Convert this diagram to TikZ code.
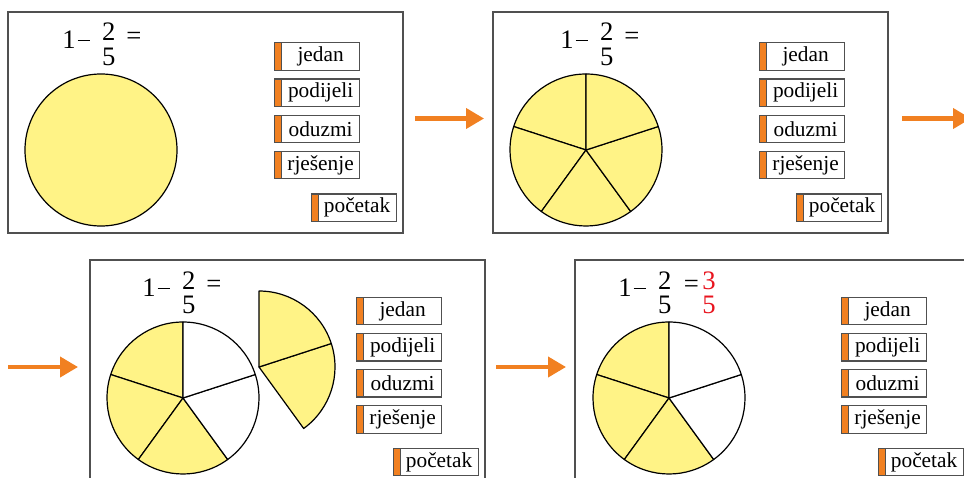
\documentclass[tikz,border=0pt]{standalone}
\usepackage{fontspec}
\setmainfont{Liberation Serif}
\newfontfamily\serifni{Liberation Serif}
\usetikzlibrary{positioning,arrows.meta}

\definecolor{zuta}{RGB}{255,243,134}
\definecolor{narancasta}{RGB}{241,128,33}
\definecolor{okvir}{RGB}{80,80,80}
\definecolor{crvena}{RGB}{232,20,30}

\tikzset{
  ploca/.style={draw=okvir, line width=1.1pt},
  kriska/.style={draw=black, line width=0.9pt, line join=round},
  jedn/.style={inner sep=0pt, font=\serifni\fontsize{20}{22}\selectfont},
  gumb/.style={draw=okvir, line width=0.9pt, fill=white, anchor=north west,
    minimum width=63.75pt, minimum height=20.6pt, inner sep=0pt,
    font=\serifni\fontsize{16}{18}\selectfont,
    execute at begin node={\hspace*{5.25pt}},
    path picture={\filldraw[fill=narancasta, draw=okvir, line width=0.9pt]
      (path picture bounding box.south west) rectangle
      ([xshift=5.25pt]path picture bounding box.north west);}},
  strelica/.style={draw=narancasta, line width=3pt,
    -{Triangle[length=13.5pt,width=15pt]}}
}

% gumbi na desnoj strani ploce: #1 oznaka, #2 vrh prvog gumba
\newcommand{\gumbi}[2]{%
  \node[gumb] (#1jedan) at (266,-#2) {jedan};
  \node[gumb, below=5.6pt of #1jedan] (#1podijeli) {podijeli};
  \node[gumb, below=5.6pt of #1podijeli] (#1oduzmi) {oduzmi};
  \node[gumb, below=5.6pt of #1oduzmi] (#1rjesenje) {rješenje};
  \node[gumb] (#1pocetak) at (302.5,-#2-151) {početak};
}

% zadatak 1 - 2/5 = : #1 oznaka, #2 pomak po x
\newcommand{\jednadzba}[2]{%
  \node[jedn, anchor=base west] (#1jed) at (54+#2,-36.5)
    {1\kern1.5pt\rule[5.6pt]{9.5pt}{0.9pt}};
  \node[jedn, anchor=base] (#1br) at (100.8+#2,-29) {2};
  \node[jedn, anchor=base] (#1naz) at (100.8+#2,-53.5) {5};
}

\begin{document}
\begin{tikzpicture}[x=0.75pt, y=0.75pt]
\useasboundingbox (0,0) rectangle (964,-478);
\clip (0,0) rectangle (964,-478);

% ploca 1: cijeli krug
\begin{scope}[shift={(8,-12)}]
  \draw[ploca] (0,0) rectangle (395,-221);
  \jednadzba{p1}{0}
  \node[jedn, anchor=base] (p1jd) at (126,-32.5) {=};
  \coordinate (p1c) at (93,-138);
  \filldraw[kriska, fill=zuta] (p1c) circle[radius=76];
  \gumbi{p1}{30.3}
\end{scope}

% ploca 2: krug podijeljen na pet dijelova
\begin{scope}[shift={(493,-12)}]
  \draw[ploca] (0,0) rectangle (395,-221);
  \jednadzba{p2}{13}
  \node[jedn, anchor=base] (p2jd) at (139,-32.5) {=};
  \coordinate (p2c) at (93,-138);
  \foreach \a in {90,162,234,306,378}
    \filldraw[kriska, fill=zuta] (p2c) -- ++(\a:76)
      arc[start angle=\a, delta angle=72, radius=76] -- cycle;
  \gumbi{p2}{30.3}
\end{scope}

% ploca 3: oduzimanje dva dijela
\begin{scope}[shift={(90,-260)}]
  \draw[ploca] (0,0) rectangle (395,-240);
  \jednadzba{p3}{-2}
  \node[jedn, anchor=base] (p3jd) at (124,-32.5) {=};
  \coordinate (p3c) at (93,-138);
  \foreach \a/\boja in {90/zuta,162/zuta,234/zuta,306/white,378/white}
    \filldraw[kriska, fill=\boja] (p3c) -- ++(\a:76)
      arc[start angle=\a, delta angle=72, radius=76] -- cycle;
  \coordinate (p3k) at (169,-107);
  \foreach \a in {306,378}
    \filldraw[kriska, fill=zuta] (p3k) -- ++(\a:76)
      arc[start angle=\a, delta angle=72, radius=76] -- cycle;
  \gumbi{p3}{36.7}
\end{scope}

% ploca 4: rjesenje
\begin{scope}[shift={(575,-260)}]
  \draw[ploca] (0,0) rectangle (400,-240);
  \jednadzba{p4}{-11}
  \node[jedn, anchor=base] (p4jd) at (116.5,-32.5) {=};
  \node[jedn, anchor=base, text=crvena] (p4rbr) at (134,-29) {3};
  \node[jedn, anchor=base, text=crvena] (p4rnaz) at (134,-53.5) {5};
  \coordinate (p4c) at (94,-138);
  \foreach \a/\boja in {90/zuta,162/zuta,234/zuta,306/white,378/white}
    \filldraw[kriska, fill=\boja] (p4c) -- ++(\a:76)
      arc[start angle=\a, delta angle=72, radius=76] -- cycle;
  \gumbi{p4}{36.7}
\end{scope}

% strelice izmedu ploca
\coordinate (s1a) at (415,-118.5);
\coordinate (s1b) at (484,-118.5);
\coordinate (s2a) at (902,-118.5);
\coordinate (s2b) at (971,-118.5);
\coordinate (s3a) at (8,-367);
\coordinate (s3b) at (78,-367);
\coordinate (s4a) at (496,-367);
\coordinate (s4b) at (566,-367);
\draw[strelica] (s1a) -- (s1b);
\draw[strelica] (s2a) -- (s2b);
\draw[strelica] (s3a) -- (s3b);
\draw[strelica] (s4a) -- (s4b);
\end{tikzpicture}
\end{document}
